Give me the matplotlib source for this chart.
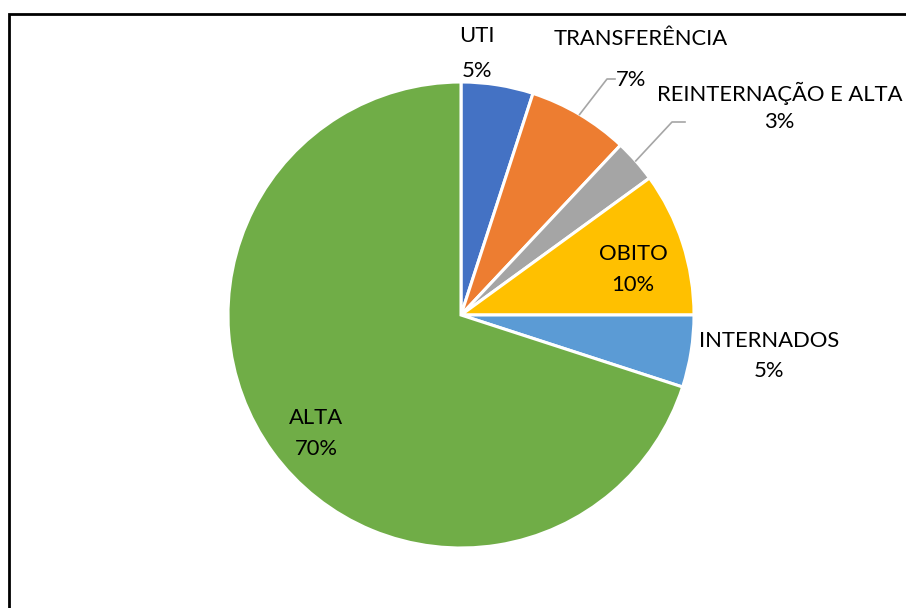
import numpy as np
import matplotlib
matplotlib.use("Agg")
import matplotlib.pyplot as plt
from matplotlib.patches import Rectangle

plt.rcParams["font.family"] = ["Lato", "DejaVu Sans"]

# dados (sentido horário a partir do topo)
categorias = ["UTI", "TRANSFERÊNCIA", "REINTERNAÇÃO E ALTA", "OBITO", "INTERNADOS", "ALTA"]
valores = [5, 7, 3, 10, 5, 70]
cores = ["#4472C4", "#ED7D31", "#A5A5A5", "#FFC000", "#5B9BD5", "#70AD47"]

# layout em pixels (y de cima para baixo, linha de base do texto)
W, H = 906, 608
CX, CY, R = 461, 315, 233
nome_xy = [(477, 41.7), (641, 45), (780, 101), (633, 260), (769, 346.7), (316, 424)]
pct_xy = [(477, 76.7), (631, 86), (779, 128.3), (633, 291), (769, 377.3), (316, 455)]
leader = [False, True, True, False, False, False]
elbow_xy = [None, (607, 79), (672, 122), None, None, None]
elbow_end = [None, (615, 79), (685, 122), None, None, None]
FS = 15.8

fig = plt.figure(figsize=(W / 100, H / 100), dpi=100)
ax = fig.add_axes([0, 0, 1, 1])
ax.axis("off")

ax.pie(valores, colors=cores, startangle=90, counterclock=False,
       center=(CX, H - CY), radius=R,
       wedgeprops=dict(edgecolor="white", linewidth=2.2))
ax.set_xlim(0, W)
ax.set_ylim(0, H)
ax.set_aspect("auto")

total = sum(valores)
ang = 90.0
for i, (cat, v) in enumerate(zip(categorias, valores)):
    mid = ang - 360 * v / total / 2
    ang -= 360 * v / total
    pct = f"{round(100 * v / total)}%"
    nx, ny = nome_xy[i]
    qx, qy = pct_xy[i]
    ax.text(nx, H - ny, cat, ha="center", va="baseline", fontsize=FS)
    ax.text(qx, H - qy, pct, ha="center", va="baseline", fontsize=FS)
    if leader[i]:
        px = CX + R * np.cos(np.radians(mid))
        py = CY - R * np.sin(np.radians(mid))
        ex, ey = elbow_xy[i]
        fx, fy = elbow_end[i]
        ax.plot([px, ex, fx], [H - py, H - ey, H - fy], color="#A6A6A6", lw=1.2)

# moldura (cortada à direita e embaixo)
fig.patches.append(Rectangle((8.8 / W, -0.2), 2.0, (H - 13.5) / H + 0.2,
                             transform=fig.transFigure, fill=False,
                             edgecolor="black", linewidth=2.0))

fig.savefig("out.png", dpi=100)
